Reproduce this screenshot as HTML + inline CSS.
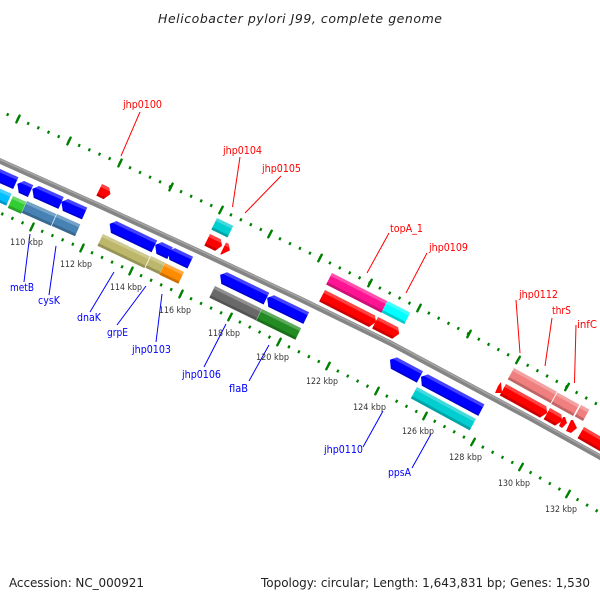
<!DOCTYPE html>
<html><head><meta charset="utf-8"><style>
html,body{margin:0;padding:0;background:#fff}
svg{display:block}
.h{fill:#fff;fill-opacity:.26}
.d{fill:#000;fill-opacity:.2}
text{font-family:"DejaVu Sans","Liberation Sans",sans-serif}
.r{font-size:11px;fill:#f00}
.b{font-size:11px;fill:#00f}
.k{font-size:9px;fill:#333}
</style></head><body>
<svg width="600" height="600" viewBox="0 0 600 600" xmlns="http://www.w3.org/2000/svg">
<rect width="600" height="600" fill="#fff"/>
<text x="158" y="23" font-size="12.5" font-style="italic" fill="#222" textLength="284" lengthAdjust="spacing">Helicobacter pylori J99, complete genome</text>

<!-- dotted rings -->
<g fill="none" stroke="#008000" stroke-width="3" stroke-dasharray="2.2 8.87" stroke-dashoffset="1.1">
<path d="M-33 97L18 119M18 119L69 141M69 141L120 163M120 163L171 187M171 187L221 210M221 210L270 234M270 234L320 258M320 258L370 283M370 283L419 308M419 308L469 334M469 334L518 360M518 360L567 387M567 387L616 415"/>
<path d="M-18 205L32 227M32 227L82 248M82 248L131 271M131 271L181 294M181 294L230 317M230 317L279 342M279 342L328 366M328 366L377 391M377 391L425 416M425 416L473 442M473 442L521 467M521 467L568 494M568 494L616 522"/>
</g>
<g stroke="#008000" stroke-width="2.4" stroke-linecap="round" fill="none">
<path d="M16.400 122.400L19.600 115.600M67.400 144.400L70.600 137.600M118.400 166.400L121.600 159.600M169.400 190.400L172.600 183.600M219.300 213.300L222.700 206.700M268.300 237.300L271.700 230.700M318.300 261.300L321.700 254.700M368.300 286.300L371.700 279.700M417.300 311.300L420.700 304.700M467.300 337.300L470.700 330.700M516.200 363.200L519.800 356.800M565.200 390.200L568.800 383.800"/>
<path d="M30.400 230.400L33.600 223.600M80.400 251.400L83.600 244.600M129.400 274.400L132.600 267.600M179.400 297.400L182.600 290.600M228.300 320.300L231.700 313.700M277.300 345.300L280.700 338.700M326.300 369.300L329.700 362.700M375.300 394.300L378.700 387.700M423.300 419.300L426.700 412.700M471.200 445.200L474.800 438.800M519.200 470.200L522.800 463.800M566.200 497.200L569.800 490.800"/>
</g>

<!-- backbone -->
<path d="M-10 156.500L100 206L200 252L300 299L390 343L460 380.500L530 418L600 457L615 466" fill="none" stroke="#858585" stroke-width="5.500"/>
<path d="M-10 155L100 204.500L200 250.500L300 297.500L390 341.500L460 379L530 416.500L600 455.500L615 464.500" fill="none" stroke="#a6a6a6" stroke-width="1.500"/>

<!-- upper strand features left -->
<g transform="translate(-9 165) rotate(24) scale(1 1.08)" fill="#00f"><path d="M0 0H30V12H0Z"/><path class="h" d="M0 0H30V3H0Z"/><path class="d" d="M0 10.500H30V12H0Z"/></g>
<g transform="translate(19.5 179) rotate(24) scale(1 1.08)" fill="#00f"><path d="M5 0H15V12H5L0 5Z"/><path class="h" d="M5 0H15V3H2Z"/><path class="d" d="M3.900 10.500H15V12H5Z"/></g>
<g transform="translate(34.5 184) rotate(24) scale(1 1.08)" fill="#00f"><path d="M5 0H32V12H5L0 5Z"/><path class="h" d="M5 0H32V3H2Z"/><path class="d" d="M3.900 10.500H32V12H5Z"/></g>
<g transform="translate(63.5 197) rotate(24) scale(1 1.08)" fill="#00f"><path d="M5 0H26V12H5L0 5Z"/><path class="h" d="M5 0H26V3H2Z"/><path class="d" d="M3.900 10.500H26V12H5Z"/></g>
<g transform="translate(-15 182) rotate(24) scale(1 1.08)" fill="#00bfff"><path d="M0 0H29V12H0Z"/><path class="h" d="M0 0H29V3H0Z"/><path class="d" d="M0 9.500H29V12H0Z"/></g>
<g transform="translate(13 196) rotate(24) scale(1 1.08)" fill="#32cd32"><path d="M0 0H14.500V12H0Z"/><path class="h" d="M0 0H14.500V3H0Z"/><path class="d" d="M0 9.500H14.500V12H0Z"/></g>
<g transform="translate(27 201) rotate(24) scale(1 1.08)" fill="#4682b4"><path d="M0 0H32V12H0Z"/><path class="h" d="M0 0H32V3H0Z"/><path class="d" d="M0 9.500H32V12H0Z"/></g>
<g transform="translate(57 214) rotate(24) scale(1 1.08)" fill="#4682b4"><path d="M0 0H25.500V12H0Z"/><path class="h" d="M0 0H25.500V3H0Z"/><path class="d" d="M0 9.500H25.500V12H0Z"/></g>
<g transform="translate(102 184) rotate(26) scale(1 1.08)" fill="#f00"><path d="M0 0H8L12 5L8 12H0Z"/><path class="h" d="M0 0H8L10 3H0Z"/><path class="d" d="M0 9.500H9.400L8 12H0Z"/></g>

<g transform="translate(112 219) rotate(25.5) scale(1 1.08)" fill="#00f"><path d="M5 0H50V12H5L0 5Z"/><path class="h" d="M5 0H50V3H2Z"/><path class="d" d="M3.900 10.500H50V12H5Z"/></g>
<g transform="translate(157.5 240) rotate(25.5) scale(1 1.08)" fill="#00f"><path d="M5 0H17V12H5L0 5Z"/><path class="h" d="M5 0H17V3H2Z"/><path class="d" d="M3.900 10.500H17V12H5Z"/></g>
<g transform="translate(170.5 246) rotate(25.5) scale(1 1.08)" fill="#00f"><path d="M5 0H25V12H5L0 5Z"/><path class="h" d="M5 0H25V3H2Z"/><path class="d" d="M3.900 10.500H25V12H5Z"/></g>
<g transform="translate(103 234) rotate(25.5) scale(1 1.08)" fill="#bdb76b"><path d="M0 0H52V12H0Z"/><path class="h" d="M0 0H52V3H0Z"/><path class="d" d="M0 9.500H52V12H0Z"/></g>
<g transform="translate(151 256) rotate(25.5) scale(1 1.08)" fill="#bdb76b"><path d="M0 0H15.500V12H0Z"/><path class="h" d="M0 0H15.500V3H0Z"/><path class="d" d="M0 9.500H15.500V12H0Z"/></g>
<g transform="translate(165 263) rotate(25.5) scale(1 1.08)" fill="#ff8c00"><path d="M0 0H21V12H0Z"/><path class="h" d="M0 0H21V3H0Z"/><path class="d" d="M0 9.500H21V12H0Z"/></g>

<!-- middle -->
<g transform="translate(217 218) rotate(26) scale(1 1.08)" fill="#00ced1"><path d="M0 0H18V12H0Z"/><path class="h" d="M0 0H18V3H0Z"/><path class="d" d="M0 9.500H18V12H0Z"/></g>
<g transform="translate(210 234) rotate(26) scale(1 1.08)" fill="#f00"><path d="M0 0H12L16 5L12 12H0Z"/><path class="h" d="M0 0H12L14 3H0Z"/><path class="d" d="M0 9.500H13.400L12 12H0Z"/></g>
<g transform="translate(226 242.5) rotate(26) scale(1 1.08)" fill="#f00"><path d="M0 0H3L7 5L1 12H0Z"/><path class="h" d="M0 0H3L5 3H0Z"/></g>
<g transform="translate(222.5 270) rotate(26) scale(1 1.08)" fill="#00f"><path d="M5 0H52V12H5L0 5Z"/><path class="h" d="M5 0H52V3H2Z"/><path class="d" d="M3.900 10.500H52V12H5Z"/></g>
<g transform="translate(269.5 293) rotate(26) scale(1 1.08)" fill="#00f"><path d="M5 0H44V12H5L0 5Z"/><path class="h" d="M5 0H44V3H2Z"/><path class="d" d="M3.900 10.500H44V12H5Z"/></g>
<g transform="translate(215 286) rotate(26) scale(1 1.08)" fill="#696969"><path d="M0 0H52V12H0Z"/><path class="h" d="M0 0H52V3H0Z"/><path class="d" d="M0 9.500H52V12H0Z"/></g>
<g transform="translate(262 309) rotate(26) scale(1 1.08)" fill="#228b22"><path d="M0 0H43.500V12H0Z"/><path class="h" d="M0 0H43.500V3H0Z"/><path class="d" d="M0 9.500H43.500V12H0Z"/></g>

<g transform="translate(332 273) rotate(27) scale(1 1.08)" fill="#ff1493"><path d="M0 0H62V12H0Z"/><path class="h" d="M0 0H62V3H0Z"/><path class="d" d="M0 9.500H62V12H0Z"/></g>
<g transform="translate(387.5 301) rotate(27) scale(1 1.08)" fill="#0ff"><path d="M0 0H25.500V12H0Z"/><path class="h" d="M0 0H25.500V3H0Z"/><path class="d" d="M0 9.500H25.500V12H0Z"/></g>
<g transform="translate(325 290) rotate(27) scale(1 1.08)" fill="#f00"><path d="M0 0H56L60 5L56 12H0Z"/><path class="h" d="M0 0H56L58 3H0Z"/><path class="d" d="M0 9.500H57.400L56 12H0Z"/></g>
<g transform="translate(378 317) rotate(27) scale(1 1.08)" fill="#f00"><path d="M0 0H22.500L26.500 5L22.500 12H0Z"/><path class="h" d="M0 0H22.500L24.500 3H0Z"/><path class="d" d="M0 9.500H23.900L22.500 12H0Z"/></g>

<g transform="translate(392.5 355) rotate(28) scale(1 1.08)" fill="#00f"><path d="M5 0H34.500V12H5L0 5Z"/><path class="h" d="M5 0H34.500V3H2Z"/><path class="d" d="M3.900 10.500H34.500V12H5Z"/></g>
<g transform="translate(423.5 372) rotate(28) scale(1 1.08)" fill="#00f"><path d="M5 0H69V12H5L0 5Z"/><path class="h" d="M5 0H69V3H2Z"/><path class="d" d="M3.900 10.500H69V12H5Z"/></g>
<g transform="translate(417 387) rotate(28.5) scale(1 1.08)" fill="#00ced1"><path d="M0 0H67V12H0Z"/><path class="h" d="M0 0H67V3H0Z"/><path class="d" d="M0 9.500H67V12H0Z"/></g>

<!-- right -->
<g transform="translate(514 368) rotate(29) scale(1 1.08)" fill="#f08080"><path d="M0 0H49V12H0Z"/><path class="h" d="M0 0H49V3H0Z"/><path class="d" d="M0 9.500H49V12H0Z"/></g>
<g transform="translate(557.5 392.5) rotate(29) scale(1 1.08)" fill="#f08080"><path d="M0 0H25V12H0Z"/><path class="h" d="M0 0H25V3H0Z"/><path class="d" d="M0 9.500H25V12H0Z"/></g>
<g transform="translate(581 405) rotate(29) scale(1 1.08)" fill="#f08080"><path d="M0 0H9.500V12H0Z"/><path class="h" d="M0 0H9.500V3H0Z"/><path class="d" d="M0 9.500H9.500V12H0Z"/></g>
<polygon points="495,393 498,386 501,382 502,393" fill="#f00"/>
<g transform="translate(506 384) rotate(29) scale(1 1.08)" fill="#f00"><path d="M0 0H46L50 5L46 12H0Z"/><path class="h" d="M0 0H46L48 3H0Z"/><path class="d" d="M0 9.500H47.400L46 12H0Z"/></g>
<g transform="translate(550 408) rotate(29.5) scale(1 1.08)" fill="#f00"><path d="M0 0H13L17 5L13 12H0Z"/><path class="h" d="M0 0H13L15 3H0Z"/><path class="d" d="M0 9.500H14.400L13 12H0Z"/></g>
<polygon points="563,417 565,417 567,423 562,428 559,426" fill="#f00"/>
<polygon points="571,420 573,420 577,428 571,433 566,431" fill="#f00"/>
<g transform="translate(584 427) rotate(30) scale(1 1.08)" fill="#f00"><path d="M0 0H30V12H0Z"/><path class="h" d="M0 0H30V3H0Z"/><path class="d" d="M0 9.500H30V12H0Z"/></g>

<!-- leaders -->
<path d="M140 112L121 156M240 157L232.500 207M281 176L245 213M389 233L367 273M427 253L406 293M516 300L520 353M552 318L545 366M576 325L574.500 383" stroke="#f00" fill="none"/>
<path d="M30 234L24 282M56 246L49 295M114 272L90 312M146 286L117 325M162 294L156 342M226 324L204 367M269 345L249 381M383 411L363 447M431 434L412 468" stroke="#00f" fill="none"/>

<!-- labels -->
<text class="r" x="123" y="108" textLength="39" lengthAdjust="spacingAndGlyphs">jhp0100</text>
<text class="r" x="223" y="154" textLength="39" lengthAdjust="spacingAndGlyphs">jhp0104</text>
<text class="r" x="262" y="172" textLength="39" lengthAdjust="spacingAndGlyphs">jhp0105</text>
<text class="r" x="390" y="232" textLength="33" lengthAdjust="spacingAndGlyphs">topA_1</text>
<text class="r" x="429" y="251" textLength="39" lengthAdjust="spacingAndGlyphs">jhp0109</text>
<text class="r" x="519" y="298" textLength="39" lengthAdjust="spacingAndGlyphs">jhp0112</text>
<text class="r" x="552" y="314" textLength="19" lengthAdjust="spacingAndGlyphs">thrS</text>
<text class="r" x="577" y="328" textLength="20" lengthAdjust="spacingAndGlyphs">infC</text>
<text class="b" x="10" y="291" textLength="24" lengthAdjust="spacingAndGlyphs">metB</text>
<text class="b" x="38" y="304" textLength="22" lengthAdjust="spacingAndGlyphs">cysK</text>
<text class="b" x="77" y="321" textLength="24" lengthAdjust="spacingAndGlyphs">dnaK</text>
<text class="b" x="107" y="336" textLength="21" lengthAdjust="spacingAndGlyphs">grpE</text>
<text class="b" x="132" y="353" textLength="39" lengthAdjust="spacingAndGlyphs">jhp0103</text>
<text class="b" x="182" y="378" textLength="39" lengthAdjust="spacingAndGlyphs">jhp0106</text>
<text class="b" x="229" y="392" textLength="19" lengthAdjust="spacingAndGlyphs">flaB</text>
<text class="b" x="324" y="453" textLength="39" lengthAdjust="spacingAndGlyphs">jhp0110</text>
<text class="b" x="388" y="476" textLength="23" lengthAdjust="spacingAndGlyphs">ppsA</text>

<text class="k" x="10" y="245" textLength="33" lengthAdjust="spacingAndGlyphs">110 kbp</text>
<text class="k" x="60" y="267" textLength="32" lengthAdjust="spacingAndGlyphs">112 kbp</text>
<text class="k" x="110" y="290" textLength="32" lengthAdjust="spacingAndGlyphs">114 kbp</text>
<text class="k" x="159" y="313" textLength="32" lengthAdjust="spacingAndGlyphs">116 kbp</text>
<text class="k" x="208" y="336" textLength="32" lengthAdjust="spacingAndGlyphs">118 kbp</text>
<text class="k" x="256" y="360" textLength="33" lengthAdjust="spacingAndGlyphs">120 kbp</text>
<text class="k" x="306" y="384" textLength="32" lengthAdjust="spacingAndGlyphs">122 kbp</text>
<text class="k" x="353" y="410" textLength="33" lengthAdjust="spacingAndGlyphs">124 kbp</text>
<text class="k" x="402" y="434" textLength="32" lengthAdjust="spacingAndGlyphs">126 kbp</text>
<text class="k" x="449" y="460" textLength="33" lengthAdjust="spacingAndGlyphs">128 kbp</text>
<text class="k" x="498" y="486" textLength="32" lengthAdjust="spacingAndGlyphs">130 kbp</text>
<text class="k" x="545" y="512" textLength="32" lengthAdjust="spacingAndGlyphs">132 kbp</text>

<text x="9" y="587" font-size="12" fill="#222" textLength="135" lengthAdjust="spacing">Accession: NC_000921</text>
<text x="261" y="587" font-size="12" fill="#222" textLength="329" lengthAdjust="spacing">Topology: circular; Length: 1,643,831 bp; Genes: 1,530</text>
</svg>
</body></html>
